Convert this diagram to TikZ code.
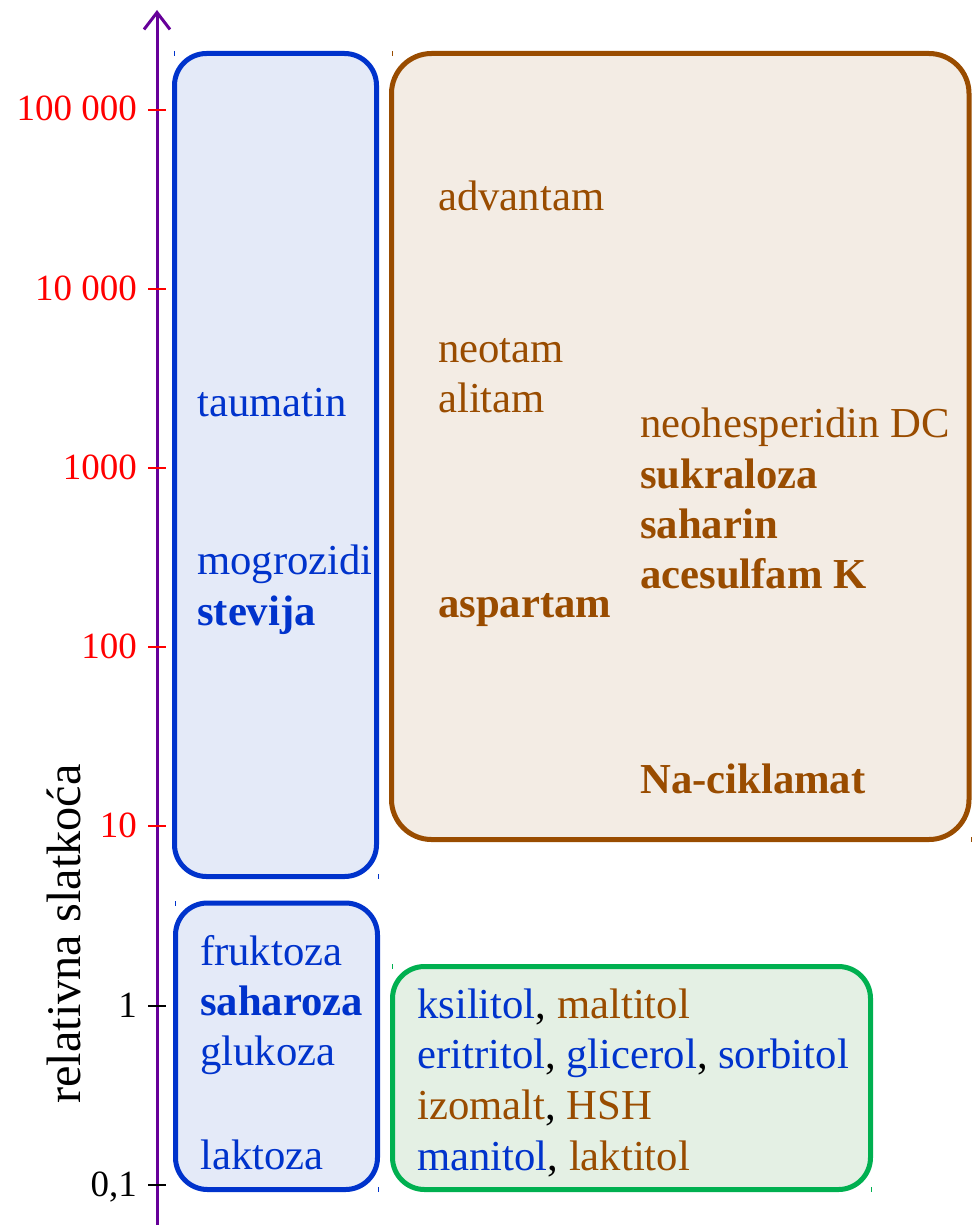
\documentclass[tikz,border=0pt]{standalone}
\usepackage{fontspec}
\setmainfont{Liberation Serif}
\usetikzlibrary{arrows.meta}

\definecolor{axispurple}{RGB}{102,0,153}
\definecolor{natblue}{RGB}{0,51,204}
\definecolor{synbrown}{RGB}{153,76,0}
\definecolor{polgreen}{RGB}{0,176,80}
\definecolor{bluefill}{RGB}{228,234,248}
\definecolor{brownfill}{RGB}{243,236,228}
\definecolor{greenfill}{RGB}{228,240,228}

\tikzset{
  sweet/.style={anchor=base west,inner sep=0pt,font=\fontsize{42.7}{50}\selectfont},
  bsweet/.style={sweet,font=\fontsize{42.7}{50}\selectfont\bfseries},
  ticklab/.style={anchor=base east,inner sep=0pt,font=\fontsize{37}{40}\selectfont},
  group/.style={line width=5pt,rounded corners=32pt},
  cornermark/.style={line width=1pt},
}

\begin{document}
\begin{tikzpicture}[x=1pt,y=-1pt]
\useasboundingbox (0,0) rectangle (978,1225);

% axis
\coordinate (axbot) at (157,1225);
\coordinate (axtop) at (157,10);
\draw[axispurple,line width=3pt,-{Straight Barb[length=17pt,width=26pt,line width=3pt]}] (axbot) -- (axtop);
\node[rotate=90,inner sep=0pt,font=\fontsize{48.3}{56}\selectfont] (axlab) at (64,934) {relativna slatkoća};

\foreach \y/\val/\col in {110/{100 000}/red,289/{10 000}/red,468/1000/red,647/100/red,826/10/red,1006/1/black,1185/{0,1}/black}{
  \draw[\col,line width=2pt] (148,\y) -- (166,\y);
  \node[ticklab,text=\col] (tick\y) at (137,\y+11) {\val};
}

% groups
\draw[group,natblue,fill=bluefill] (174.5,53.5) rectangle (376.5,876.5);
\draw[group,natblue,fill=bluefill] (175.5,903) rectangle (377.5,1189.5);
\draw[group,synbrown,fill=brownfill,rounded corners=40pt] (391.5,53.5) rectangle (969,839.5);
\draw[group,polgreen,fill=greenfill] (392.5,966.5) rectangle (870.5,1189.5);

% little marks at the corners
\foreach \x/\y/\col in {174/51/natblue,378/874/natblue,175/901/natblue,378/1187/natblue,
  392/51/synbrown,971/837/synbrown,392/964/polgreen,871/1187/polgreen}{
  \draw[cornermark,\col] (\x,\y) -- (\x,\y+5);
}

% natural sweeteners
\node[sweet,text=natblue] (taumatin) at (197,416) {taumatin};
\node[sweet,text=natblue] (mogrozidi) at (197,574) {mogrozidi};
\node[bsweet,text=natblue] (stevija) at (197,625) {stevija};

\node[sweet,text=natblue] (fruktoza) at (200,965) {fruktoza};
\node[bsweet,text=natblue] (saharoza) at (200,1015) {saharoza};
\node[sweet,text=natblue] (glukoza) at (200,1065) {glukoza};
\node[sweet,text=natblue] (laktoza) at (200,1169) {laktoza};

% synthetic sweeteners
\node[sweet,text=synbrown] (advantam) at (438,210) {advantam};
\node[sweet,text=synbrown] (neotam) at (438,362) {neotam};
\node[sweet,text=synbrown] (alitam) at (438,412) {alitam};
\node[bsweet,text=synbrown] (aspartam) at (438,617) {aspartam};

\node[sweet,text=synbrown] (nhdc) at (640,437) {neohesperidin DC};
\node[bsweet,text=synbrown] (sukraloza) at (640,488) {sukraloza};
\node[bsweet,text=synbrown] (saharin) at (640,538) {saharin};
\node[bsweet,text=synbrown] (acesulfam) at (640,588) {acesulfam K};
\node[bsweet,text=synbrown] (naciklamat) at (640,793) {Na-ciklamat};

% polyols
\node[sweet] (poly1) at (417,1018) {\textcolor{natblue}{ksilitol}, \textcolor{synbrown}{maltitol}};
\node[sweet] (poly2) at (417,1068) {\textcolor{natblue}{eritritol}, \textcolor{natblue}{glicerol}, \textcolor{natblue}{sorbitol}};
\node[sweet] (poly3) at (417,1119) {\textcolor{synbrown}{izomalt}, \textcolor{synbrown}{HSH}};
\node[sweet] (poly4) at (417,1170) {\textcolor{natblue}{manitol}, \textcolor{synbrown}{laktitol}};
\end{tikzpicture}
\end{document}
